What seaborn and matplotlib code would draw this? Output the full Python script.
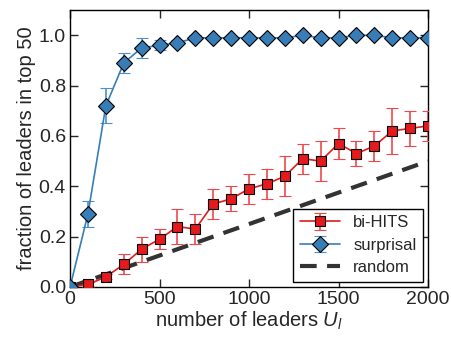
import numpy as np
import pandas as pd
import matplotlib
matplotlib.use("Agg")
import matplotlib.pyplot as plt
import seaborn as sns

# ================================
# DATA
# ================================

n_leaders = [0, 100, 200, 300, 400, 500, 600, 700, 800, 900, 1000,
             1100, 1200, 1300, 1400, 1500, 1600, 1700, 1800, 1900, 2000]

bihits = [0.0, 0.01, 0.04, 0.09, 0.15, 0.19, 0.24, 0.23, 0.33, 0.35, 0.39,
          0.41, 0.44, 0.51, 0.50, 0.57, 0.53, 0.56, 0.62, 0.63, 0.64]
bihits_err = [0.0, 0.01, 0.01, 0.04, 0.05, 0.04, 0.07, 0.06, 0.06, 0.05, 0.06,
              0.06, 0.08, 0.06, 0.08, 0.06, 0.05, 0.06, 0.09, 0.07, 0.06]

surprisal = [0.0, 0.29, 0.72, 0.89, 0.95, 0.96, 0.97, 0.99, 0.99, 0.99, 0.99,
             0.99, 0.99, 1.0, 0.99, 0.99, 1.0, 1.0, 0.99, 0.99, 0.99]
surprisal_err = [0.0, 0.05, 0.07, 0.04, 0.04, 0.02, 0.01, 0.01, 0.005, 0.005, 0.005,
                 0.005, 0.005, 0.0, 0.005, 0.005, 0.0, 0.0, 0.005, 0.005, 0.005]

random_x = [0, 2000]
random_y = [0.0, 0.5]

# ================================
# STYLE
# ================================

sns.set_style("ticks")
plt.rcParams["font.family"] = ["Liberation Sans", "DejaVu Sans"]
plt.rcParams["mathtext.fontset"] = "custom"
plt.rcParams["mathtext.rm"] = "Liberation Sans"
plt.rcParams["mathtext.it"] = "Liberation Sans:italic"
plt.rcParams["xtick.direction"] = "in"
plt.rcParams["ytick.direction"] = "in"

red = "#e41a1c"
blue = "#377eb8"

fig, ax = plt.subplots(figsize=(4.52, 3.38), dpi=100)
fig.subplots_adjust(left=0.155, right=0.947, top=0.970, bottom=0.151)

# ================================
# PLOT
# ================================

h1 = ax.errorbar(n_leaders, bihits, yerr=bihits_err, color=red, lw=1.2,
                 marker="s", ms=7.5, mfc=red, mec="black", mew=0.8,
                 ecolor="#f0484a", elinewidth=1.2, capsize=4, capthick=1.2,
                 label="bi-HITS", zorder=3)
h2 = ax.errorbar(n_leaders, surprisal, yerr=surprisal_err, color=blue, lw=1.2,
                 marker="D", ms=8, mfc=blue, mec="black", mew=0.8,
                 ecolor="#4a90cf", elinewidth=1.2, capsize=4, capthick=1.2,
                 label="surprisal", zorder=3)

rand_df = pd.DataFrame({"x": random_x, "y": random_y})
sns.lineplot(data=rand_df, x="x", y="y", ax=ax, color="#333333", lw=3,
             dashes=False, linestyle=(0, (4, 2.5)), label="random", zorder=2)

ax.set_xlim(0, 2000)
ax.set_ylim(0, 1.1)
ax.set_xticks([0, 500, 1000, 1500, 2000])
ax.set_yticks([0.0, 0.2, 0.4, 0.6, 0.8, 1.0])
ax.set_yticklabels(["0.0", "0.2", "0.4", "0.6", "0.8", "1.0"])
ax.tick_params(which="both", top=True, right=True, labelsize=14,
               length=6, width=1, pad=3)

ax.set_xlabel("number of leaders $U_l$", fontsize=14.5, labelpad=1)
ax.set_ylabel("fraction of leaders in top 50", fontsize=14.5, labelpad=2)

for sp in ax.spines.values():
    sp.set_linewidth(1.0)
    sp.set_color("black")

handles, labels = ax.get_legend_handles_labels()
order = [labels.index(n) for n in ["bi-HITS", "surprisal", "random"]]
leg = ax.legend([handles[i] for i in order], [labels[i] for i in order],
                loc="lower right", fontsize=12, frameon=True, fancybox=False,
                edgecolor="black", framealpha=1, borderpad=0.4,
                handlelength=2.4, labelspacing=0.45, borderaxespad=0.3,
                handletextpad=0.8)
leg.get_frame().set_linewidth(1.0)

fig.savefig("out.png", dpi=100)
